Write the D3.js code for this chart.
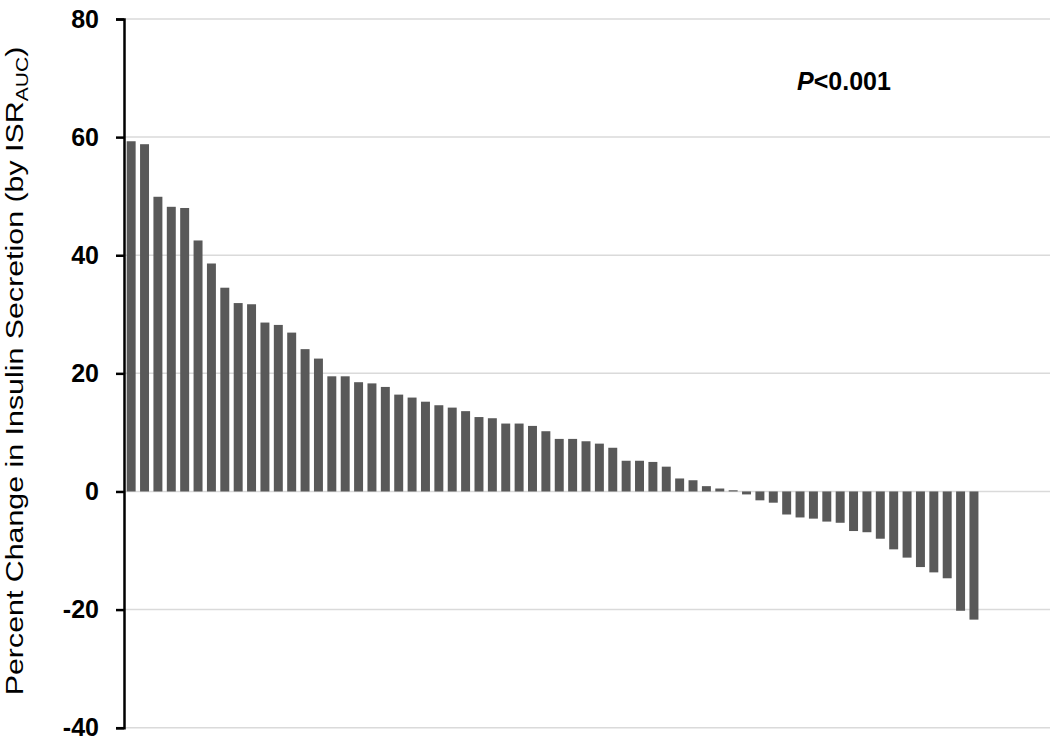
<!DOCTYPE html>
<html>
<head>
<meta charset="utf-8">
<script src="https://cdn.jsdelivr.net/npm/d3@7"></script>
<style>
  html, body { margin: 0; padding: 0; background: #fff; }
  svg { display: block; font-family: "Liberation Sans", Arial, Helvetica, sans-serif; }
</style>
</head>
<body>
<svg id="chart" width="1050" height="740"></svg>
<script>
// Percent change in insulin secretion (ISR AUC) per subject, sorted high to low
const percentChange = [
  59.3, 58.8, 49.9, 48.2, 48.0, 42.5, 38.6, 34.5, 31.9, 31.7,
  28.6, 28.2, 26.9, 24.1, 22.5, 19.5, 19.5, 18.5, 18.3, 17.7,
  16.4, 15.9, 15.2, 14.6, 14.2, 13.6, 12.6, 12.4, 11.5, 11.5,
  11.1, 10.2, 8.9, 8.9, 8.5, 8.1, 7.4, 5.2, 5.2, 5.0,
  4.2, 2.2, 1.9, 0.9, 0.5, 0.2, -0.5, -1.5, -1.9, -3.9,
  -4.4, -4.6, -5.1, -5.3, -6.7, -6.9, -8.0, -9.8, -11.2, -12.8,
  -13.7, -14.7, -20.2, -21.7
];
const yTicks = [80, 60, 40, 20, 0, -20, -40];
const yTickLabels = ["80", "60", "40", "20", "0", "-20", "-40"];
const yDomain = [-40, 80];
const emptyTrailingSlots = 5;
const pLabel = { italic: "P", rest: "<0.001" };

const svg = d3.select("#chart");
const W = 1050;
const plot = { left: 124, right: 1048, top: 19, bottom: 727.7 };

const y = d3.scaleLinear().domain(yDomain).range([plot.bottom, plot.top]);
const x = d3.scaleBand()
  .domain(d3.range(percentChange.length + emptyTrailingSlots))
  .range([plot.left, plot.right])
  .paddingInner(0.33)
  .paddingOuter(0.2);

// horizontal gridlines
svg.append("g")
  .selectAll("line")
  .data(yTicks)
  .join("line")
  .attr("x1", plot.left)
  .attr("x2", W)
  .attr("y1", d => y(d))
  .attr("y2", d => y(d))
  .attr("stroke", "#dadada")
  .attr("stroke-width", 1.5);

// bars
svg.append("g")
  .selectAll("rect")
  .data(percentChange)
  .join("rect")
  .attr("x", (d, i) => x(i))
  .attr("width", x.bandwidth())
  .attr("y", d => y(Math.max(0, d)))
  .attr("height", d => Math.abs(y(d) - y(0)))
  .attr("fill", "#595959");

// y axis
const yAxis = d3.axisLeft(y)
  .tickValues(yTicks)
  .tickSize(8)
  .tickPadding(17)
  .tickFormat((d, i) => yTickLabels[i]);

const gAxis = svg.append("g")
  .attr("transform", `translate(${plot.left},0)`)
  .call(yAxis);
gAxis.select(".domain").attr("stroke", "#000").attr("stroke-width", 2.5);
gAxis.selectAll(".tick line").attr("stroke", "#000").attr("stroke-width", 2.5);
gAxis.selectAll(".tick text")
  .attr("fill", "#000")
  .attr("font-size", 25)
  .attr("font-weight", "bold")
  .attr("font-family", "'Liberation Sans', Arial, sans-serif");

// y axis title (glyphs stretched along the reading direction)
const title = svg.append("text")
  .attr("transform", `translate(23, 371) rotate(-90) scale(1.24, 1)`)
  .attr("text-anchor", "middle")
  .attr("font-size", 24.5)
  .attr("fill", "#000");
title.append("tspan").text("Percent Change in Insulin Secretion (by ISR");
title.append("tspan").attr("font-size", 17).attr("dy", 5).text("AUC");
title.append("tspan").attr("dy", -5).text(")");

// significance annotation
const pText = svg.append("text")
  .attr("x", 797)
  .attr("y", 90)
  .attr("font-size", 25)
  .attr("font-weight", "bold")
  .attr("fill", "#000");
pText.append("tspan").attr("font-style", "italic").text(pLabel.italic);
pText.append("tspan").text(pLabel.rest);
</script>
</body>
</html>
